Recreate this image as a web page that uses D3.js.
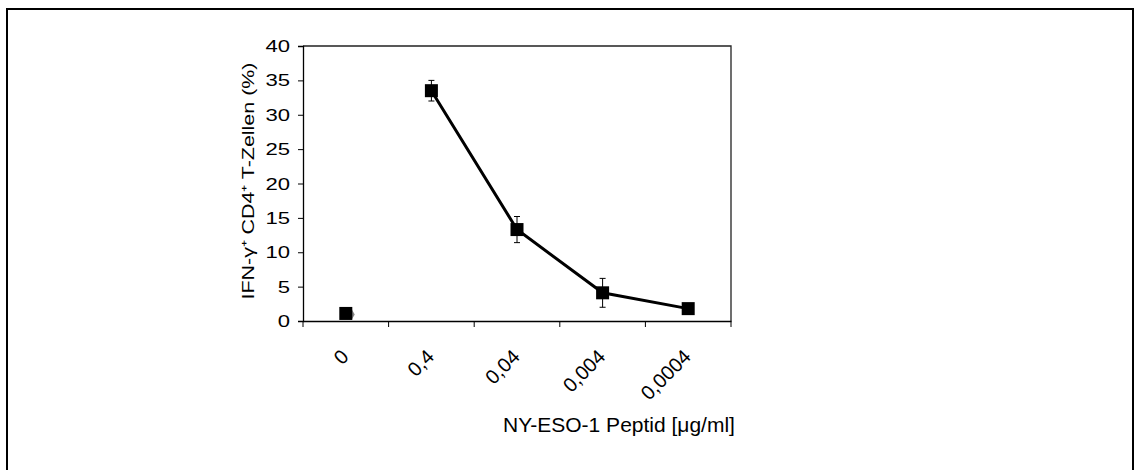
<!DOCTYPE html>
<html><head><meta charset="utf-8">
<script src="https://cdn.jsdelivr.net/npm/d3@7"></script>
<style>body{margin:0;background:#fff;} svg{display:block;font-family:Arial,"Liberation Sans",sans-serif;}</style>
</head><body>
<svg id="c" width="1141" height="470"></svg>
<script>
const categories = ["0","0,4","0,04","0,004","0,0004"];
const values = [1.1, 33.5, 13.3, 4.1, 1.8];
const errors = [0, 1.5, 1.9, 2.1, 0];
const yTicks = [0,5,10,15,20,25,30,35,40];
const yTitle = "IFN-γ⁺ CD4⁺ T-Zellen (%)";
const xTitle = "NY-ESO-1 Peptid [μg/ml]";

const svg = d3.select("#c");
svg.append("rect").attr("x",7).attr("y",9).attr("width",1126).attr("height",500)
  .attr("fill","none").attr("stroke","#000").attr("stroke-width",2);

const L=303, R=731, T=46, B=321;
const x = d3.scaleBand().domain(categories).range([L,R]);
const y = d3.scaleLinear().domain([0,40]).range([B,T]);

svg.append("path").attr("d",`M${L},${T}H${R}V${B}`).attr("fill","none").attr("stroke","#222").attr("stroke-width",1.3);

const ya = svg.append("g").attr("transform",`translate(${L},0)`)
  .call(d3.axisLeft(y).tickValues(yTicks).tickSize(5).tickFormat(""));
ya.select(".domain").attr("stroke","#000").attr("stroke-width",1.3);
svg.selectAll(".yl").data(yTicks).enter().append("text")
  .attr("transform",d=>`translate(290,${y(d)+6}) scale(1.3,1)`)
  .attr("text-anchor","end").attr("font-size",17).attr("font-family","Arial").text(d=>d);

const xa = svg.append("g").attr("transform",`translate(0,${B})`)
  .call(d3.axisBottom(x).tickSize(0).tickFormat(""));
xa.select(".domain").attr("stroke","#000").attr("stroke-width",1.6);
const bounds = categories.map(c=>x(c)).concat([R]);
svg.selectAll(".xt").data(bounds).enter().append("line")
  .attr("x1",d=>d).attr("x2",d=>d).attr("y1",B).attr("y2",B+6).attr("stroke","#000").attr("stroke-width",1);
svg.selectAll(".xl").data(categories).enter().append("text")
  .attr("transform",d=>`translate(${x(d)+x.bandwidth()/2+4},${B+37}) rotate(-45)`)
  .attr("text-anchor","end").attr("font-size",20).attr("font-family","Arial").text(d=>d);

const cx = d => x(d)+x.bandwidth()/2;
const pts = categories.map((c,i)=>({c,v:values[i],e:errors[i]}));

svg.append("path").datum(pts.slice(1))
  .attr("d",d3.line().x(d=>cx(d.c)).y(d=>y(d.v)))
  .attr("fill","none").attr("stroke","#000").attr("stroke-width",3);

const eb = svg.selectAll(".eb").data(pts.filter(d=>d.e>0)).enter().append("g");
eb.append("line").attr("x1",d=>cx(d.c)).attr("x2",d=>cx(d.c)).attr("y1",d=>y(d.v+d.e)).attr("y2",d=>y(d.v-d.e)).attr("stroke","#000");
eb.append("line").attr("x1",d=>cx(d.c)-3).attr("x2",d=>cx(d.c)+3).attr("y1",d=>y(d.v+d.e)).attr("y2",d=>y(d.v+d.e)).attr("stroke","#000");
eb.append("line").attr("x1",d=>cx(d.c)-3).attr("x2",d=>cx(d.c)+3).attr("y1",d=>y(d.v-d.e)).attr("y2",d=>y(d.v-d.e)).attr("stroke","#000");

svg.append("path").attr("d",d3.symbol(d3.symbolDiamond,30)())
  .attr("transform",`translate(${cx(categories[0])+6},${y(values[0])+1})`).attr("fill","#888");

svg.selectAll(".sq").data(pts).enter().append("rect")
  .attr("x",d=>cx(d.c)-6.5).attr("y",d=>y(d.v)-6.5).attr("width",13).attr("height",13).attr("fill","#000");

svg.append("text").attr("transform",`translate(254,181) rotate(-90) scale(1.3,1)`)
  .attr("text-anchor","middle").attr("font-size",16.5).attr("font-family","Arial").text(yTitle);
svg.append("text").attr("x",619).attr("y",432).attr("text-anchor","middle")
  .attr("font-size",21).attr("font-family","Arial").text(xTitle);
</script>
</body></html>
